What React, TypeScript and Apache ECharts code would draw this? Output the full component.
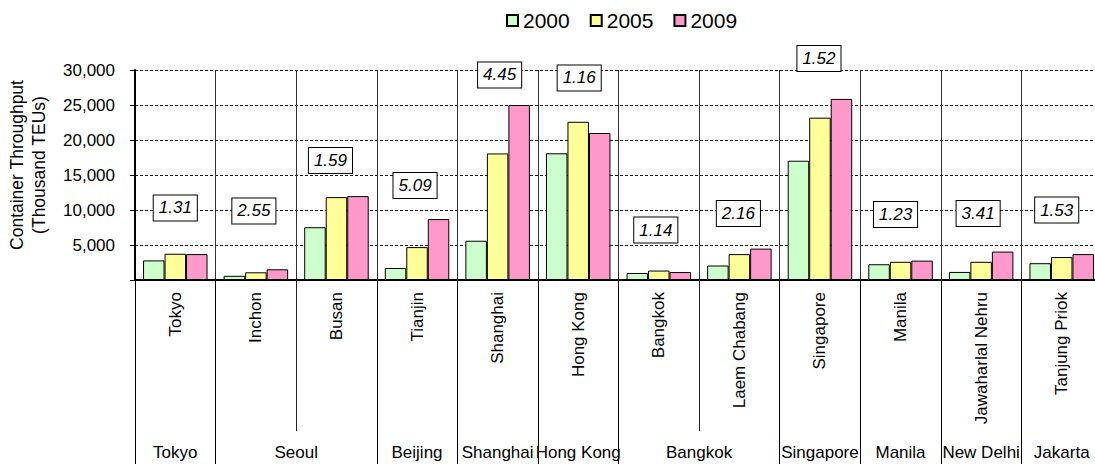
import React, { useEffect, useRef } from 'react';
import * as echarts from 'echarts';

// Ports (first axis row) and the cities they serve (second axis row)
const ports = [
  'Tokyo', 'Inchon', 'Busan', 'Tianjin', 'Shanghai', 'Hong Kong',
  'Bangkok', 'Laem Chabang', 'Singapore', 'Manila', 'Jawaharlal Nehru', 'Tanjung Priok',
];
const cities = [
  'Tokyo', 'Seoul', 'Beijing', 'Shanghai', 'Hong Kong',
  'Bangkok', 'Singapore', 'Manila', 'New Delhi', 'Jakarta',
];
const portsPerCity = [1, 2, 1, 1, 1, 2, 1, 1, 1, 1];

const years = ['2000', '2005', '2009'];

// Container throughput, thousand TEUs
const teu2000 = [2800, 600, 7540, 1710, 5610, 18100, 1000, 2070, 17040, 2250, 1150, 2400];
const teu2005 = [3750, 1100, 11840, 4700, 18080, 22600, 1350, 3700, 23190, 2600, 2600, 3280];
const teu2009 = [3700, 1530, 11980, 8700, 25000, 21000, 1140, 4480, 25870, 2770, 4060, 3700];

// Growth 2000 -> 2009, shown in boxes above each port
const growthRatios = ['1.31', '2.55', '1.59', '5.09', '4.45', '1.16', '1.14', '2.16', '1.52', '1.23', '3.41', '1.53'];
const ratioLabelLevels = [10300, 9860, 17070, 13500, 29290, 28860, 7140, 9500, 31640, 9360, 9500, 10000];
const ratioLabelShift = [0, -2, -6, -2, 2, 1, -3, -1, -1, -5, -3, -5];

const yMin = 0;
const yMax = 30000;
const yStep = 5000;

const FONT = '"Liberation Sans", Arial, sans-serif';
const barColors = ['#CCFFCC', '#FFFF99', '#FF99CC'];

export default function App() {
  const ref = useRef<HTMLDivElement>(null);

  useEffect(() => {
    if (!ref.current) return;
    const chart = echarts.init(ref.current, undefined, { renderer: 'svg' });

    // city group boundaries and centres on a 0..ports.length scale
    const bounds: number[] = [0];
    portsPerCity.forEach((n) => bounds.push(bounds[bounds.length - 1] + n));
    const centres = cities.map((_, i) => (bounds[i] + bounds[i + 1]) / 2);
    const cityAt: Record<string, string> = {};
    centres.forEach((c, i) => { cityAt[c.toFixed(1)] = cities[i]; });

    const seriesData = [teu2000, teu2005, teu2009];

    chart.setOption({
      animation: false,
      legend: {
        data: years,
        left: 506,
        top: 10,
        padding: 0,
        icon: 'rect',
        itemWidth: 11,
        itemHeight: 11,
        itemGap: 20,
        textStyle: { fontFamily: FONT, fontSize: 21, color: '#000' },
      },
      grid: {
        left: 135,
        top: 70,
        width: 967,
        height: 210,
        outerBoundsMode: 'none',
        containLabel: false,
      },
      graphic: [
        {
          type: 'text',
          x: 28,
          y: 165,
          rotation: Math.PI / 2,
          style: {
            text: 'Container Throughput\n(Thousand TEUs)',
            fontFamily: FONT,
            fontSize: 17.5,
            lineHeight: 22,
            fill: '#000',
            align: 'center',
            verticalAlign: 'middle',
          },
        },
      ],
      xAxis: [
        {
          type: 'category',
          data: ports,
          position: 'bottom',
          boundaryGap: true,
          axisLine: { show: true, lineStyle: { color: '#000', width: 2 } },
          axisTick: {
            show: true,
            interval: 0,
            length: 151,
            lineStyle: { color: '#222', width: 1 },
          },
          splitLine: {
            show: true,
            interval: 0,
            lineStyle: { color: '#333', width: 1, type: 'solid' },
          },
          axisLabel: {
            interval: 0,
            rotate: 90,
            margin: 12,
            fontFamily: FONT,
            fontSize: 17,
            color: '#000',
          },
        },
        {
          type: 'value',
          min: 0,
          max: ports.length,
          position: 'bottom',
          axisLine: { show: false },
          splitLine: { show: false },
          axisTick: {
            show: true,
            customValues: bounds,
            length: 184,
            lineStyle: { color: '#000', width: 1 },
          },
          axisLabel: {
            show: true,
            customValues: centres,
            margin: 164,
            fontFamily: FONT,
            fontSize: 17,
            color: '#000',
            formatter: (v: number) => cityAt[Number(v).toFixed(1)] ?? '',
          },
        },
      ],
      yAxis: {
        type: 'value',
        min: yMin,
        max: yMax,
        interval: yStep,
        axisLine: { show: true, lineStyle: { color: '#000', width: 2 } },
        axisTick: { show: true, length: 5, lineStyle: { color: '#000', width: 1 } },
        splitLine: { show: true, lineStyle: { color: '#111', width: 1, type: [3, 2] } },
        axisLabel: {
          margin: 20,
          fontFamily: FONT,
          fontSize: 17,
          color: '#000',
          formatter: (v: number) => (v === 0 ? '' : v.toLocaleString('en-US')),
        },
      },
      series: [
        ...years.map((y, i) => ({
          name: y,
          type: 'bar',
          xAxisIndex: 0,
          data: seriesData[i],
          barWidth: 21.5,
          barGap: '0%',
          itemStyle: { color: barColors[i], borderColor: '#000', borderWidth: 1 },
        })),
        {
          name: 'growth',
          type: 'scatter',
          xAxisIndex: 0,
          clip: false,
          symbolSize: 0,
          itemStyle: { color: '#fff', opacity: 1 },
          silent: true,
          data: ports.map((p, i) => ({
            value: [p, ratioLabelLevels[i]],
            label: { offset: [ratioLabelShift[i], 0] },
          })),
          label: {
            show: true,
            position: 'inside',
            formatter: (params: any) => growthRatios[params.dataIndex],
            fontFamily: FONT,
            fontSize: 17,
            fontStyle: 'italic',
            color: '#000',
            lineHeight: 17,
            backgroundColor: '#fff',
            borderColor: '#000',
            borderWidth: 1,
            padding: [4, 5, 4, 5],
          },
          z: 5,
        },
      ],
    });

    return () => chart.dispose();
  }, []);

  return (
    <div
      ref={ref}
      style={{ position: 'fixed', left: 0, top: 0, width: 1095, height: 464, background: '#fff' }}
    />
  );
}
